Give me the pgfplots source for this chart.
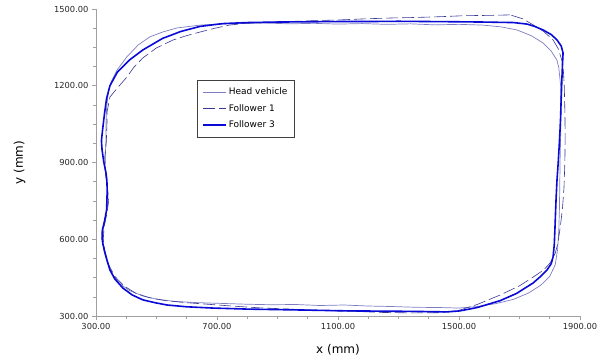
\documentclass[border=0pt]{standalone}
\usepackage{fontspec}
\setmainfont{DejaVu Sans}
\usepackage{pgfplots}
\pgfplotsset{compat=1.18}
\definecolor{axisgray}{RGB}{160,160,160}
\definecolor{headc}{RGB}{125,125,195}
\definecolor{f1c}{RGB}{55,55,150}
\definecolor{f3c}{RGB}{10,10,215}
\begin{document}
\begin{tikzpicture}
\begin{axis}[name=ax, scale only axis, width=484pt, height=307pt,
  xmin=300, xmax=1900, ymin=300, ymax=1500,
  xtick={300,700,...,1900}, ytick={300,600,...,1500},
  minor x tick num=3, minor y tick num=3,
  axis x line*=bottom, axis y line*=left,
  axis line style={-, draw=axisgray, line width=0.8pt},
  tick align=outside, major tick length=4pt, minor tick length=2.5pt,
  every tick/.style={draw=axisgray, line width=0.6pt},
  /pgf/number format/.cd, fixed, fixed zerofill, precision=2, 1000 sep={}, assume math mode=true, /pgfplots/.cd,
  ticklabel style={font=\fontsize{8.3}{10}\selectfont, text=black!85},
  xlabel={x (mm)}, ylabel={y (mm)},
  label style={font=\fontsize{12}{14}\selectfont},
  xlabel style={at={(axis description cs:0.5,-0.111)}, anchor=center},
  ylabel style={at={(axis description cs:-0.158,0.5)}, anchor=center},
  legend style={at={(axis description cs:0.2087,0.7687)}, anchor=north west, draw=black!75, line width=0.5pt,
    font=\fontsize{9}{11}\selectfont, inner xsep=5pt, inner ysep=5.5pt, row sep=4.3pt},
  legend cell align=left,
  legend image code/.code={\draw[#1] (0pt,0pt) -- (23pt,0pt);},
]
\addplot[headc, line width=0.7pt] coordinates {
(1692,1418) (1640,1430) (1580,1437) (1500,1440) (1420,1438) (1340,1442) (1260,1440) (1180,1443)
(1100,1441) (1020,1444) (940,1442) (860,1445) (780,1443) (700,1441) (644,1437) (568,1426)
(520,1410) (478,1391) (440,1360) (402,1313) (370,1262) (350,1215) (340,1170) (335,1110)
(333,1050) (333,990) (331,930) (330,880) (334,830) (340,780) (338,730) (330,680)
(324,640) (322,600) (327,550) (338,505) (356,460) (380,425) (410,400) (455,378)
(500,366) (560,357) (640,352) (720,349) (800,346) (880,344) (960,345) (1040,341)
(1120,343) (1200,339) (1280,337) (1360,334) (1440,333) (1500,331) (1560,337) (1620,348)
(1680,365) (1730,390) (1770,420) (1800,455) (1818,500) (1826,560) (1830,640) (1832,720)
(1833,800) (1834,900) (1836,1000) (1837,1100) (1836,1200) (1830,1270) (1824,1300) (1805,1335)
(1778,1367) (1740,1395) (1692,1418)
};
\addlegendentry{Head vehicle}
\addplot[f1c, line width=0.6pt, dash pattern=on 12pt off 4pt] coordinates {
(1669,1477) (1600,1475) (1520,1474) (1440,1470) (1360,1467) (1280,1465) (1200,1462) (1120,1458)
(1040,1455) (960,1452) (880,1449) (800,1445) (740,1437) (690,1424) (644,1410) (600,1396)
(555,1379) (500,1348) (455,1309) (425,1272) (402,1234) (370,1190) (346,1156) (337,1100)
(336,1040) (334,980) (329,920) (331,860) (338,800) (342,750) (336,700) (327,650)
(324,600) (329,550) (342,500) (362,455) (392,418) (430,390) (475,372) (530,360)
(600,352) (680,345) (760,338) (840,332) (920,328) (1000,324) (1080,320) (1160,318)
(1240,314) (1348,312) (1440,313) (1500,322) (1560,345) (1636,382) (1700,418) (1745,452)
(1780,480) (1801,507) (1818,545) (1827,585) (1835,650) (1842,720) (1847,800) (1850,900)
(1851,1000) (1850,1100) (1848,1200) (1845,1260) (1840,1300) (1828,1345) (1811,1379) (1780,1412)
(1745,1438) (1710,1462) (1669,1477)
};
\addlegendentry{Follower 1}
\addplot[f3c, line width=1.6pt] coordinates {
(1680,1447) (1579,1449) (1500,1450) (1400,1451) (1300,1452) (1200,1451) (1100,1451) (1000,1450)
(900,1449) (800,1447) (720,1443) (644,1432) (580,1412) (520,1385) (455,1340) (410,1300)
(370,1252) (346,1200) (335,1150) (328,1090) (322,1030) (318,985) (320,950) (326,900)
(333,860) (336,830) (337,790) (336,750) (335,714) (328,670) (321,636) (320,605)
(323,580) (327,560) (336,520) (346,480) (362,445) (389,409) (420,382) (455,363)
(495,352) (535,343) (600,336) (687,331) (800,327) (900,325) (1000,323) (1130,320)
(1250,319) (1350,318) (1460,316) (1503,320) (1560,333) (1636,360) (1690,388) (1745,429)
(1770,455) (1791,480) (1805,505) (1811,531) (1815,580) (1817,636) (1819,700) (1821,760)
(1824,832) (1828,900) (1831,960) (1834,1027) (1836,1080) (1837,1120) (1840,1222) (1842,1280)
(1844,1328) (1838,1355) (1824,1379) (1805,1400) (1778,1418) (1750,1432) (1725,1441) (1680,1447)
};
\addlegendentry{Follower 3}
\end{axis}
\pgfresetboundingbox
\path[use as bounding box] (ax.south west) ++(-96pt,-46pt) rectangle ([shift={(28pt,9pt)}]ax.north east);
\end{tikzpicture}
\end{document}
